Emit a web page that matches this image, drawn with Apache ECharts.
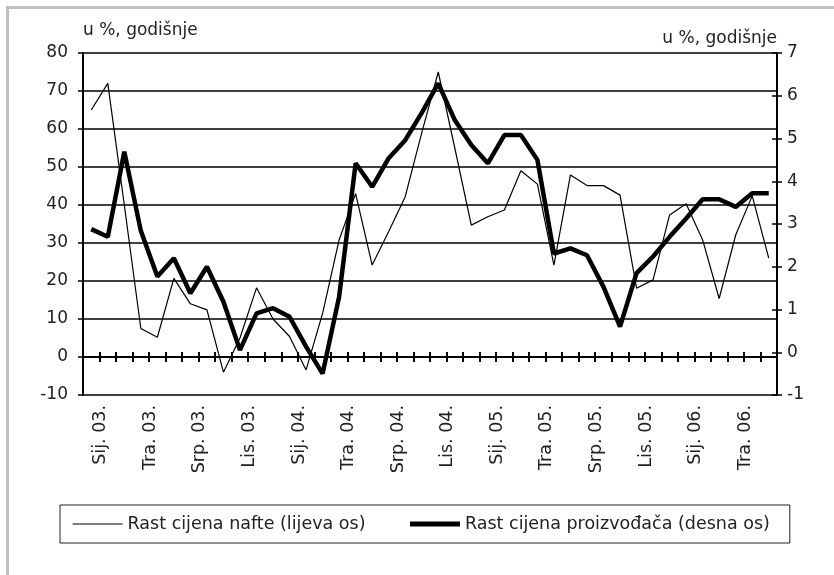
<!DOCTYPE html>
<html>
<head>
<meta charset="utf-8">
<script src="https://cdn.jsdelivr.net/npm/echarts@6/dist/echarts.min.js"></script>
<style>
  html, body { margin: 0; padding: 0; background: #fff; }
  #frame { position: absolute; left: 6px; top: 6px; width: 828px; height: 569px;
           border-left: 3px solid #c0c0c0; border-top: 3px solid #c0c0c0; box-sizing: border-box; }
  #chart { position: absolute; left: 0; top: 0; width: 834px; height: 575px; }
</style>
</head>
<body>
<div id="frame"></div>
<div id="chart"></div>
<script>
// mjeseci i godine za kategorije
const months = ['Sij', 'Velj', 'Ožu', 'Tra', 'Svi', 'Lip', 'Srp', 'Kol', 'Ruj', 'Lis', 'Stu', 'Pro']
const years = ['03', '04', '05', '06']
const nMonths = 42

const categories = []
for (let k = 0; k < nMonths; k++) {
	categories.push(months[k % 12] + '. ' + years[Math.floor(k / 12)] + '.')
}

// Rast cijena nafte (lijeva os)
const oil = [
	65, 72, 40, 7.5, 5.2, 20.7, 14, 12.4, -4, 5,
	18.2, 10, 5.4, -3.4, 11.5, 30.8, 43, 24.2, 33, 42.2,
	59, 75, 55, 34.7, 36.9, 38.7, 49, 45.5, 24.2, 47.9,
	45.1, 45.1, 42.6, 18.1, 20.3, 37.4, 40.3, 30.8, 15.4, 32.1,
	42.4, 26,
]

// Rast cijena proizvođača (desna os)
const ppi = [
	2.88, 2.7, 4.69, 2.84, 1.77, 2.2, 1.38, 2.0, 1.18, 0.05,
	0.91, 1.03, 0.83, 0.13, -0.5, 1.3, 4.42, 3.87, 4.54, 4.96,
	5.6, 6.29, 5.43, 4.85, 4.42, 5.08, 5.08, 4.5, 2.31, 2.43,
	2.27, 1.53, 0.6, 1.85, 2.24, 2.7, 3.13, 3.58, 3.58, 3.4,
	3.72, 3.72,
]

const seriesNames = ['Rast cijena nafte (lijeva os)', 'Rast cijena proizvođača (desna os)']
const axisName = 'u %, godišnje'

const font = 'DejaVu Sans'
const black = '#000'
const textColor = '#222'

const chart = echarts.init(document.getElementById('chart'))

const baseX = {
	type: 'category',
	data: categories,
	boundaryGap: true,
	position: 'bottom',
}

const option = {
	animation: false,
	grid: { left: 83, right: 57, top: 53, bottom: 180 },
	legend: {
		left: 60,
		top: 505,
		padding: [10, 20, 10, 12],
		borderColor: '#222',
		borderWidth: 1,
		itemWidth: 50,
		itemHeight: 14,
		itemGap: 42,
		itemStyle: { opacity: 0 },
		textStyle: { fontFamily: font, fontSize: 17.5, color: textColor },
		data: [
			{ name: seriesNames[0], lineStyle: { width: 1.2, color: black } },
			{ name: seriesNames[1], lineStyle: { width: 5, color: black } },
		],
	},
	xAxis: [
		Object.assign({}, baseX, {
			axisLine: { onZero: true, onZeroAxisIndex: 0, lineStyle: { color: black, width: 2 } },
			axisTick: { show: true, interval: 0, inside: false, length: 5, lineStyle: { color: black, width: 2 } },
			axisLabel: { show: false },
		}),
		Object.assign({}, baseX, {
			axisLine: { show: false, onZero: true, onZeroAxisIndex: 0 },
			axisTick: { show: true, interval: 0, inside: true, length: 5, lineStyle: { color: black, width: 2 } },
			axisLabel: { show: false },
		}),
		Object.assign({}, baseX, {
			axisLine: { show: false, onZero: false },
			axisTick: { show: false },
			axisLabel: {
				interval: 2,
				rotate: 90,
				margin: 10,
				verticalAlign: 'top',
				lineHeight: 19,
				fontFamily: font,
				fontSize: 17.5,
				color: textColor,
			},
		}),
	],
	yAxis: [
		{
			type: 'value',
			position: 'left',
			min: -10,
			max: 80,
			interval: 10,
			name: axisName,
			nameLocation: 'end',
			nameGap: 14,
			nameTextStyle: { align: 'left', verticalAlign: 'bottom', fontFamily: font, fontSize: 17, color: textColor },
			axisLine: { show: true, lineStyle: { color: black, width: 2 } },
			axisTick: { show: true, length: 5, lineStyle: { color: black, width: 1.5 } },
			axisLabel: { margin: 15, fontFamily: font, fontSize: 17, color: textColor },
			splitLine: { show: true, lineStyle: { color: black, width: 1.5 } },
		},
		{
			type: 'value',
			position: 'right',
			min: -1,
			max: 7,
			interval: 1,
			name: axisName,
			nameLocation: 'end',
			nameGap: 6,
			nameTextStyle: { align: 'right', verticalAlign: 'bottom', fontFamily: font, fontSize: 17, color: textColor },
			axisLine: { show: true, lineStyle: { color: black, width: 2 } },
			axisTick: { show: true, length: 5, lineStyle: { color: black, width: 1.5 } },
			axisLabel: { margin: 10, fontFamily: font, fontSize: 17, color: textColor },
			splitLine: { show: false },
		},
		{
			type: 'value',
			position: 'right',
			min: -1,
			max: 7,
			interval: 1,
			axisLine: { show: false },
			axisTick: { show: true, inside: true, length: 5, lineStyle: { color: black, width: 1.5 } },
			axisLabel: { show: false },
			splitLine: { show: false },
		},
	],
	series: [
		{
			name: seriesNames[0],
			type: 'line',
			xAxisIndex: 0,
			yAxisIndex: 0,
			data: oil,
			symbol: 'none',
			lineStyle: { color: black, width: 1.2 },
			itemStyle: { color: black },
		},
		{
			name: seriesNames[1],
			type: 'line',
			xAxisIndex: 0,
			yAxisIndex: 1,
			data: ppi,
			symbol: 'none',
			lineStyle: { color: black, width: 4.5 },
			itemStyle: { color: black },
		},
	],
}

chart.setOption(option)
</script>
</body>
</html>
